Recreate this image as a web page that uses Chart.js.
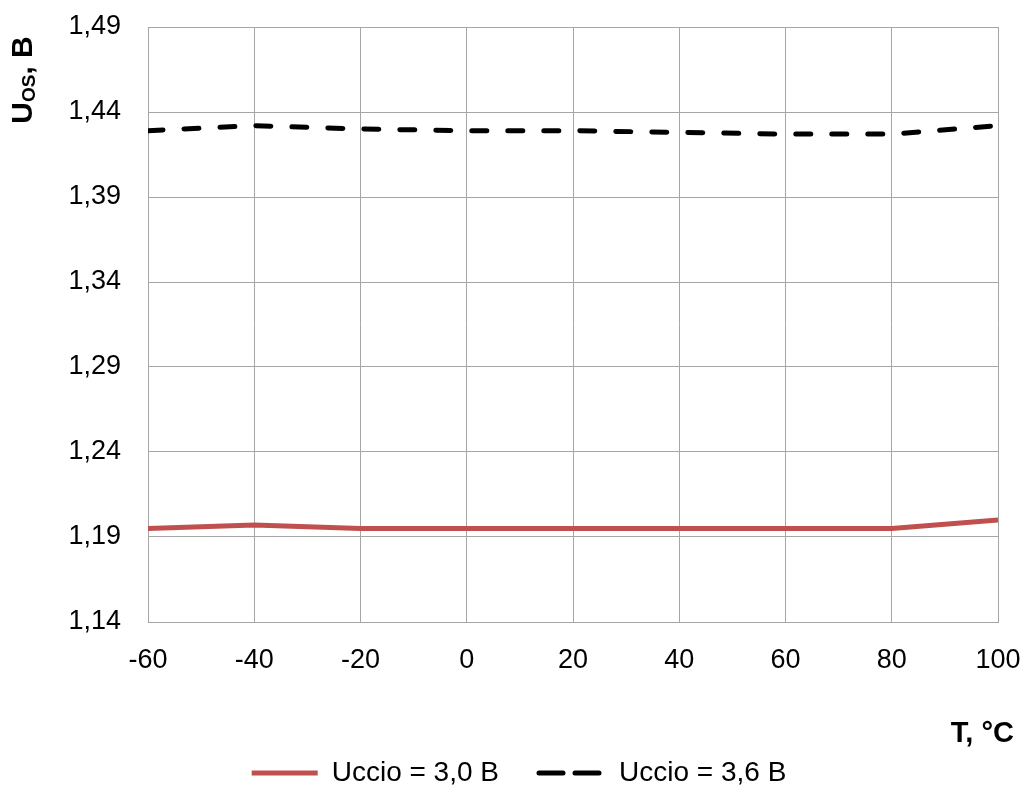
<!DOCTYPE html>
<html lang="ru">
<head>
    <meta charset="UTF-8">
    <title>U_OS(T)</title>
    <script src="https://cdn.jsdelivr.net/npm/chart.js"></script>
    <style>
        body { margin: 0; background: #fff; }
        #wrap { width: 1027px; height: 789px; }
    </style>
</head>
<body>
<div id="wrap"><canvas id="chart" width="1027" height="789"></canvas></div>

<script>
    // данные
    const temps = [-60, -40, -20, 0, 20, 40, 60, 80, 100];
    const u30 = [1.195, 1.197, 1.195, 1.195, 1.195, 1.195, 1.195, 1.195, 1.200];
    const u36 = [1.429, 1.432, 1.430, 1.429, 1.429, 1.428, 1.427, 1.427, 1.432];
    const labels30 = 'Uccio = 3,0 B';
    const labels36 = 'Uccio = 3,6 B';

    const FONT = 'Arial, "Liberation Sans", sans-serif';

    // подписи осей рисуем сами (нужен индекс у U)
    const axisTitles = {
        id: 'axisTitles',
        afterDraw(chart) {
            const ctx = chart.ctx;
            ctx.save();
            ctx.fillStyle = '#000';
            // ось Y: U_OS, B
            ctx.translate(24, 80);
            ctx.rotate(-Math.PI / 2);
            ctx.textBaseline = 'middle';
            ctx.font = 'bold 30px ' + FONT;
            const wU = ctx.measureText('U').width;
            ctx.font = 'bold 19px ' + FONT;
            const wOS = ctx.measureText('OS').width;
            ctx.font = 'bold 30px ' + FONT;
            const wB = ctx.measureText(', B').width;
            let x = -(wU + wOS + wB) / 2;
            ctx.fillText('U', x, 0);
            x += wU;
            ctx.font = 'bold 19px ' + FONT;
            ctx.fillText('OS', x, 6);
            x += wOS;
            ctx.font = 'bold 30px ' + FONT;
            ctx.fillText(', B', x, 0);
            ctx.restore();

            // ось X: T, °C
            ctx.save();
            ctx.fillStyle = '#000';
            ctx.font = 'bold 29px ' + FONT;
            ctx.textAlign = 'right';
            ctx.textBaseline = 'middle';
            ctx.fillText('T, °C', 1014, 734);
            ctx.restore();
        }
    };

    const ctx = document.getElementById('chart').getContext('2d');
    const chart = new Chart(ctx, {
        type: 'line',
        data: {
            datasets: [{
                label: labels30,
                data: temps.map((t, i) => ({ x: t, y: u30[i] })),
                borderColor: '#C0504D',
                backgroundColor: '#C0504D',
                borderWidth: 5,
                pointRadius: 0,
                tension: 0,
                fill: false
            }, {
                label: labels36,
                data: temps.map((t, i) => ({ x: t, y: u36[i] })),
                borderColor: '#000',
                backgroundColor: '#000',
                borderWidth: 5,
                borderDash: [15, 21],
                borderCapStyle: 'round',
                pointRadius: 0,
                tension: 0,
                fill: false
            }]
        },
        options: {
            responsive: false,
            animation: false,
            layout: { padding: { top: 27, right: 29, left: 40, bottom: -8 } },
            plugins: {
                tooltip: { enabled: false },
                legend: {
                    position: 'bottom',
                    labels: {
                        color: '#000',
                        font: { family: FONT, size: 28 },
                        boxWidth: 66,
                        boxHeight: 0,
                        padding: 40
                    }
                }
            },
            scales: {
                x: {
                    type: 'linear',
                    min: -60,
                    max: 100,
                    ticks: {
                        stepSize: 20,
                        color: '#000',
                        font: { family: FONT, size: 27 },
                        padding: 22
                    },
                    grid: { color: '#a6a6a6', lineWidth: 1, drawTicks: false },
                    border: { color: '#a6a6a6' },
                    afterFit(scale) {
                        scale.height = 97;
                        scale.paddingLeft = 0;
                        scale.paddingRight = 0;
                    }
                },
                y: {
                    min: 1.14,
                    max: 1.49,
                    ticks: {
                        stepSize: 0.05,
                        color: '#000',
                        font: { family: FONT, size: 27 },
                        padding: 27,
                        callback: v => v.toFixed(2).replace('.', ',')
                    },
                    grid: { color: '#a6a6a6', lineWidth: 1, drawTicks: false },
                    border: { color: '#a6a6a6' },
                    afterFit(scale) {
                        scale.width = 108;
                        scale.paddingTop = 0;
                        scale.paddingBottom = 0;
                    }
                }
            }
        },
        plugins: [axisTitles]
    });
</script>
</body>
</html>
